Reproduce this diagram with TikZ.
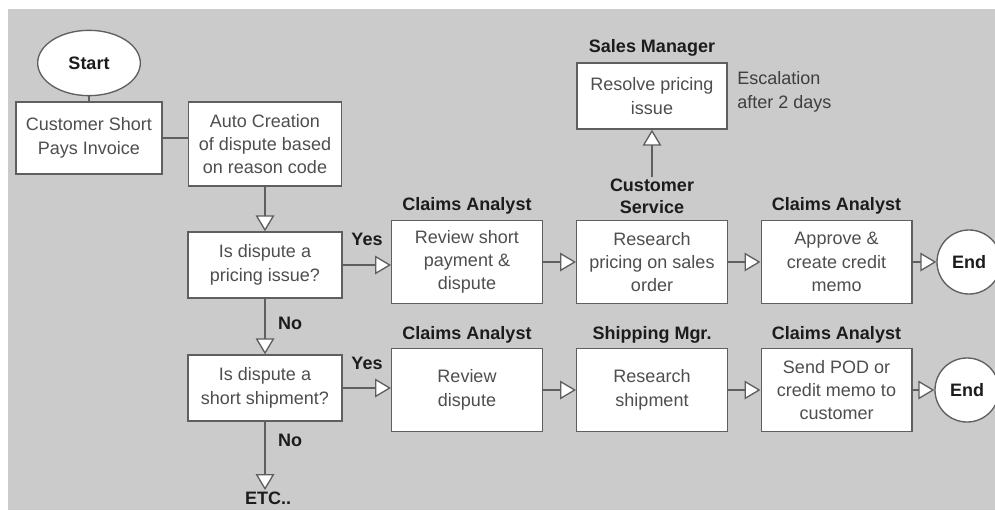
\documentclass[tikz,border=0pt]{standalone}
\usepackage{fontspec}
\setmainfont{Liberation Sans}
\usetikzlibrary{shapes,backgrounds}
\usetikzlibrary{arrows.meta}

\definecolor{bggray}{RGB}{203,203,203}
\definecolor{edgegray}{RGB}{95,95,95}
\definecolor{txtgray}{RGB}{78,78,78}
\definecolor{rolegray}{RGB}{28,28,28}

\tikzset{
	box/.style={draw=edgegray, fill=white, line width=1pt, align=center, text=txtgray, inner sep=1pt, font=\fontsize{13.5}{17.5}\selectfont},
	stepbox/.style={box, minimum width=113pt, minimum height=62pt},
	askbox/.style={box, minimum width=115.5pt, minimum height=49.5pt},
	role/.style={text=rolegray, align=center, inner sep=1pt, font=\bfseries\fontsize{13.5}{16.5}\selectfont},
	endnode/.style={box, circle, minimum size=48pt, text=rolegray, font=\bfseries\fontsize{13.5}{16}\selectfont},
	flow/.style={draw=edgegray, line width=1pt, -{Triangle[length=12pt,width=14pt,fill=white]}},
	link/.style={draw=edgegray, line width=1pt},
}

\begin{document}
\begin{tikzpicture}[x=0.75pt, y=-0.75pt]
	\useasboundingbox (0,0) rectangle (995,510);
	\fill[bggray] (8,9) rectangle (995,510);

	% start of the process
	\node[box, ellipse, minimum width=77pt, minimum height=49pt, text=rolegray, font=\bfseries\fontsize{13.5}{16}\selectfont] (start) at (89,63) {Start};
	\node[box, minimum width=109.5pt, minimum height=54pt] (pays) at (89,138) {Customer Short\\Pays Invoice};
	\node[box, minimum width=115pt, minimum height=63pt] (auto) at (265,144) {Auto Creation\\of dispute based\\on reason code};
	\draw[link] (start) -- (pays);
	\draw[link] (pays.east) -- (pays.east -| auto.west);

	% the two questions
	\node[askbox] (price) at (265,265) {Is dispute a\\pricing issue?};
	\node[askbox] (ship) at (265,388) {Is dispute a\\short shipment?};
	\node[role] (etc) at (268,498) {ETC..};
	\draw[flow] (auto) -- (price);
	\draw[flow] (price) -- (ship);
	\draw[flow] (ship.south) -- (ship.south |- etc.north);
	\node[role] (yes1) at (367,239) {Yes};
	\node[role] (yes2) at (367,363) {Yes};
	\node[role] (no1) at (290,323) {No};
	\node[role] (no2) at (290,440) {No};

	% pricing issue
	\node[stepbox] (review) at (467,262) {Review short\\payment \&\\dispute};
	\node[stepbox] (research) at (652,262) {Research\\pricing on sales\\order};
	\node[stepbox] (approve) at (836.5,262) {Approve \&\\create credit\\memo};
	\node[endnode] (end1) at (969,262) {End};
	\node[role] (who1) at (467,206) {Claims Analyst};
	\node[role] (who2) at (652,196) {Customer\\Service};
	\node[role] (who3) at (836.5,206) {Claims Analyst};
	\draw[flow] (price.east) -- (price.east -| review.west);
	\draw[flow] (review) -- (research);
	\draw[flow] (research) -- (approve);
	\draw[flow] (approve) -- (end1);

	% escalation
	\node[box, minimum width=112.5pt, minimum height=49.5pt] (resolve) at (652,96) {Resolve pricing\\issue};
	\node[role] (who0) at (652,48) {Sales Manager};
	\node[align=left, anchor=west, inner sep=0pt, text=rolegray!85, font=\fontsize{13.5}{17.5}\selectfont] (late) at (737,92) {Escalation\\after 2 days};
	\draw[flow] (who2) -- (resolve);

	% short shipment
	\node[stepbox] (check) at (467,390) {Review\\dispute};
	\node[stepbox] (trace) at (652,390) {Research\\shipment};
	\node[stepbox] (send) at (836.5,390) {Send POD or\\credit memo to\\customer};
	\node[endnode] (end2) at (967,390) {End};
	\node[role] (who4) at (467,335) {Claims Analyst};
	\node[role] (who5) at (652,335) {Shipping Mgr.};
	\node[role] (who6) at (836.5,335) {Claims Analyst};
	\draw[flow] (ship.east) -- (ship.east -| check.west);
	\draw[flow] (check) -- (trace);
	\draw[flow] (trace) -- (send);
	\draw[flow] (send) -- (end2);
\end{tikzpicture}
\end{document}
